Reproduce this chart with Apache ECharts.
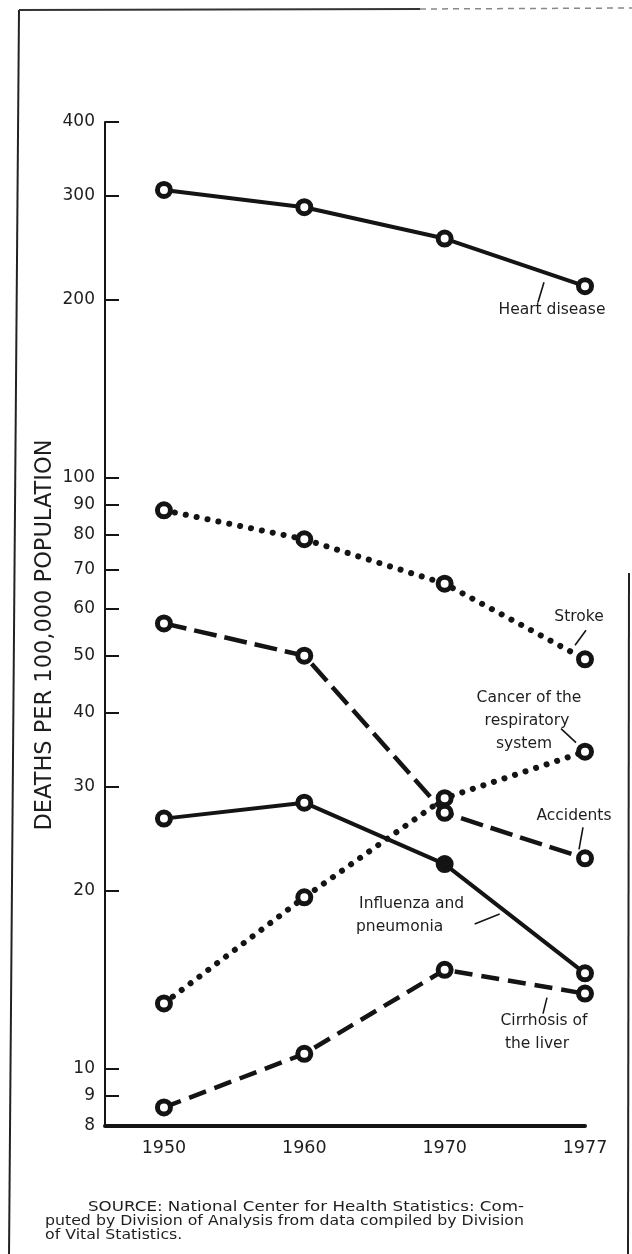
<!DOCTYPE html>
<html>
<head>
<meta charset="utf-8">
<script src="https://cdn.jsdelivr.net/npm/echarts@6/dist/echarts.min.js"></script>
<style>
  html, body { margin: 0; padding: 0; background: #fff; }
  #chart { width: 632px; height: 1254px; }
</style>
</head>
<body>
<div id="chart"></div>
<script>
// Death rates per 100,000 population, selected causes
const years = ['1950', '1960', '1970', '1977'];
const heartDisease = [307, 287, 254, 211];
const stroke = [88.1, 78.7, 66.2, 49.3];
const accidents = [56.7, 50.0, 27.1, 22.7];
const respiratoryCancer = [12.9, 19.5, 28.7, 34.4];
const influenzaPneumonia = [26.5, 28.2, 22.2, 14.5];
const liverCirrhosis = [8.6, 10.6, 14.7, 13.4];

const yTicks = [8, 9, 10, 20, 30, 40, 50, 60, 70, 80, 90, 100, 200, 300, 400];
const yTitle = 'DEATHS PER 100,000 POPULATION';
const sourceLines = [
  'SOURCE: National Center for Health Statistics: Com-',
  'puted by Division of Analysis from data compiled by Division',
  'of Vital Statistics.'
];

const INK = '#141414';
const TEXT = '#1e1e1e';
const FONT = '"DejaVu Sans", "Liberation Sans", sans-serif';
const lg = Math.log10;

const solid = { type: 'solid', width: 4, cap: 'round' };
const dotted = { type: [0.1, 11], width: 6, cap: 'round' };
const dashed = (d, g) => ({ type: [d, g], width: 4.5, cap: 'butt' });

const seriesDefs = [
  { name: 'Heart disease', values: heartDisease, line: solid },
  { name: 'Stroke', values: stroke, line: dotted },
  { name: 'Accidents', values: accidents, line: dashed(23, 8) },
  { name: 'Cancer of the respiratory system', values: respiratoryCancer, line: dotted },
  { name: 'Influenza and pneumonia', values: influenzaPneumonia, line: solid, filled: [2] },
  { name: 'Cirrhosis of the liver', values: liverCirrhosis, line: dashed(18, 9) }
];

// labels placed next to a point of their series, with a short leader stroke
const annotations = [
  { series: 0, at: 3, lines: ['Heart disease'], text: [[-33, 24]], lead: [[-47, 16], [-41, -4]] },
  { series: 1, at: 3, lines: ['Stroke'], text: [[-6, -42]], lead: [[1, -29], [-10, -14]] },
  { series: 3, at: 3, lines: ['Cancer of the', 'respiratory', 'system'],
    text: [[-56, -54], [-58, -31], [-61, -8]], lead: [[-24, -23], [-9, -9]] },
  { series: 2, at: 3, lines: ['Accidents'], text: [[-11, -42]], lead: [[-2, -31], [-6, -9]] },
  { series: 4, at: 2, lines: ['Influenza and', 'pneumonia'],
    text: [[-33, 40], [-45, 63]], lead: [[30, 60], [55, 50]] },
  { series: 5, at: 3, lines: ['Cirrhosis of', 'the liver'],
    text: [[-41, 27], [-48, 50]], lead: [[-42, 20], [-38, 4]] }
];

const series = seriesDefs.map(def => ({
  name: def.name,
  type: 'line',
  symbol: 'circle',
  symbolSize: 13,
  silent: true,
  z: 3,
  lineStyle: Object.assign({ color: INK }, def.line),
  itemStyle: { color: '#fff', borderColor: INK, borderWidth: 5 },
  data: def.values.map((v, i) => {
    const item = { value: [i, lg(v)] };
    if (def.filled && def.filled.includes(i)) item.itemStyle = { color: INK };
    return item;
  })
}));

const tickPos = yTicks.map(lg);
const yearPos = years.map((_, i) => i);

const option = {
  animation: false,
  backgroundColor: '#fff',
  grid: { left: 105, right: 47, top: 122, bottom: 128, containLabel: false },
  xAxis: {
    type: 'value',
    min: -0.42,
    max: years.length - 1,
    splitLine: { show: false },
    axisLine: { show: true, onZero: false, lineStyle: { color: INK, width: 4 } },
    axisTick: { show: false },
    axisLabel: {
      customValues: yearPos,
      formatter: v => years[Math.round(v)],
      color: TEXT, fontFamily: FONT, fontSize: 17.5, margin: 13
    }
  },
  yAxis: {
    type: 'value',
    min: lg(yTicks[0]),
    max: lg(yTicks[yTicks.length - 1]),
    splitLine: { show: false },
    axisLine: { show: true, onZero: false, lineStyle: { color: INK, width: 2 } },
    axisTick: {
      show: true, inside: true, length: 14,
      customValues: tickPos,
      lineStyle: { color: INK, width: 2 }
    },
    axisLabel: {
      customValues: tickPos,
      formatter: v => String(Math.round(Math.pow(10, v))),
      color: TEXT, fontFamily: FONT, fontSize: 17, margin: 10
    }
  },
  series: series
};

const chart = echarts.init(document.getElementById('chart'), null, { renderer: 'canvas' });
chart.setOption(option);

const px = (s, i) => chart.convertToPixel({ gridIndex: 0 }, [i, lg(seriesDefs[s].values[i])]);

const graphics = [];
const txt = (x, y, text, size, extra) => Object.assign({
  type: 'text', x: x, y: y, silent: true, z: 10,
  style: {
    text: text, fill: TEXT, fontFamily: FONT, fontSize: size,
    align: 'center', verticalAlign: 'middle',
    textAlign: 'center', textVerticalAlign: 'middle'
  }
}, extra || {});

annotations.forEach(a => {
  const p = px(a.series, a.at);
  a.lines.forEach((line, k) => {
    graphics.push(txt(p[0] + a.text[k][0], p[1] + a.text[k][1], line, 15.5));
  });
  graphics.push({
    type: 'line', silent: true, z: 10,
    shape: { x1: p[0] + a.lead[0][0], y1: p[1] + a.lead[0][1], x2: p[0] + a.lead[1][0], y2: p[1] + a.lead[1][1] },
    style: { stroke: INK, lineWidth: 1.6 }
  });
});

// vertical axis title
graphics.push(txt(45, 635, yTitle, 22.5, { rotation: Math.PI / 2 }));

// source note, set justified to its column width
const measure = document.createElement('canvas').getContext('2d');
const SRC_SIZE = 14.5;
measure.font = SRC_SIZE + 'px ' + FONT;
const srcX = [88, 45, 45];
const srcRight = 524;
const srcScale = sourceLines.map((line, k) => (srcRight - srcX[k]) / measure.measureText(line).width);
srcScale[2] = srcScale[1];
sourceLines.forEach((line, k) => {
  graphics.push({
    type: 'text', x: srcX[k], y: 1207 + k * 14, scaleX: srcScale[k], silent: true, z: 10,
    style: {
      text: line, fill: TEXT, fontFamily: FONT, fontSize: SRC_SIZE,
      align: 'left', verticalAlign: 'middle', textAlign: 'left', textVerticalAlign: 'middle'
    }
  });
});

// page border strokes
graphics.push(
  { type: 'line', silent: true, shape: { x1: 19, y1: 10, x2: 9, y2: 1254 }, style: { stroke: '#222', lineWidth: 2 } },
  { type: 'line', silent: true, shape: { x1: 19, y1: 10, x2: 420, y2: 9 }, style: { stroke: '#333', lineWidth: 2 } },
  { type: 'line', silent: true, shape: { x1: 420, y1: 9, x2: 632, y2: 8 }, style: { stroke: '#888', lineWidth: 1.5, lineDash: [6, 5] } },
  { type: 'line', silent: true, shape: { x1: 629, y1: 573, x2: 628, y2: 1254 }, style: { stroke: '#222', lineWidth: 2 } }
);

chart.setOption({ graphic: { elements: graphics } });
</script>
</body>
</html>
